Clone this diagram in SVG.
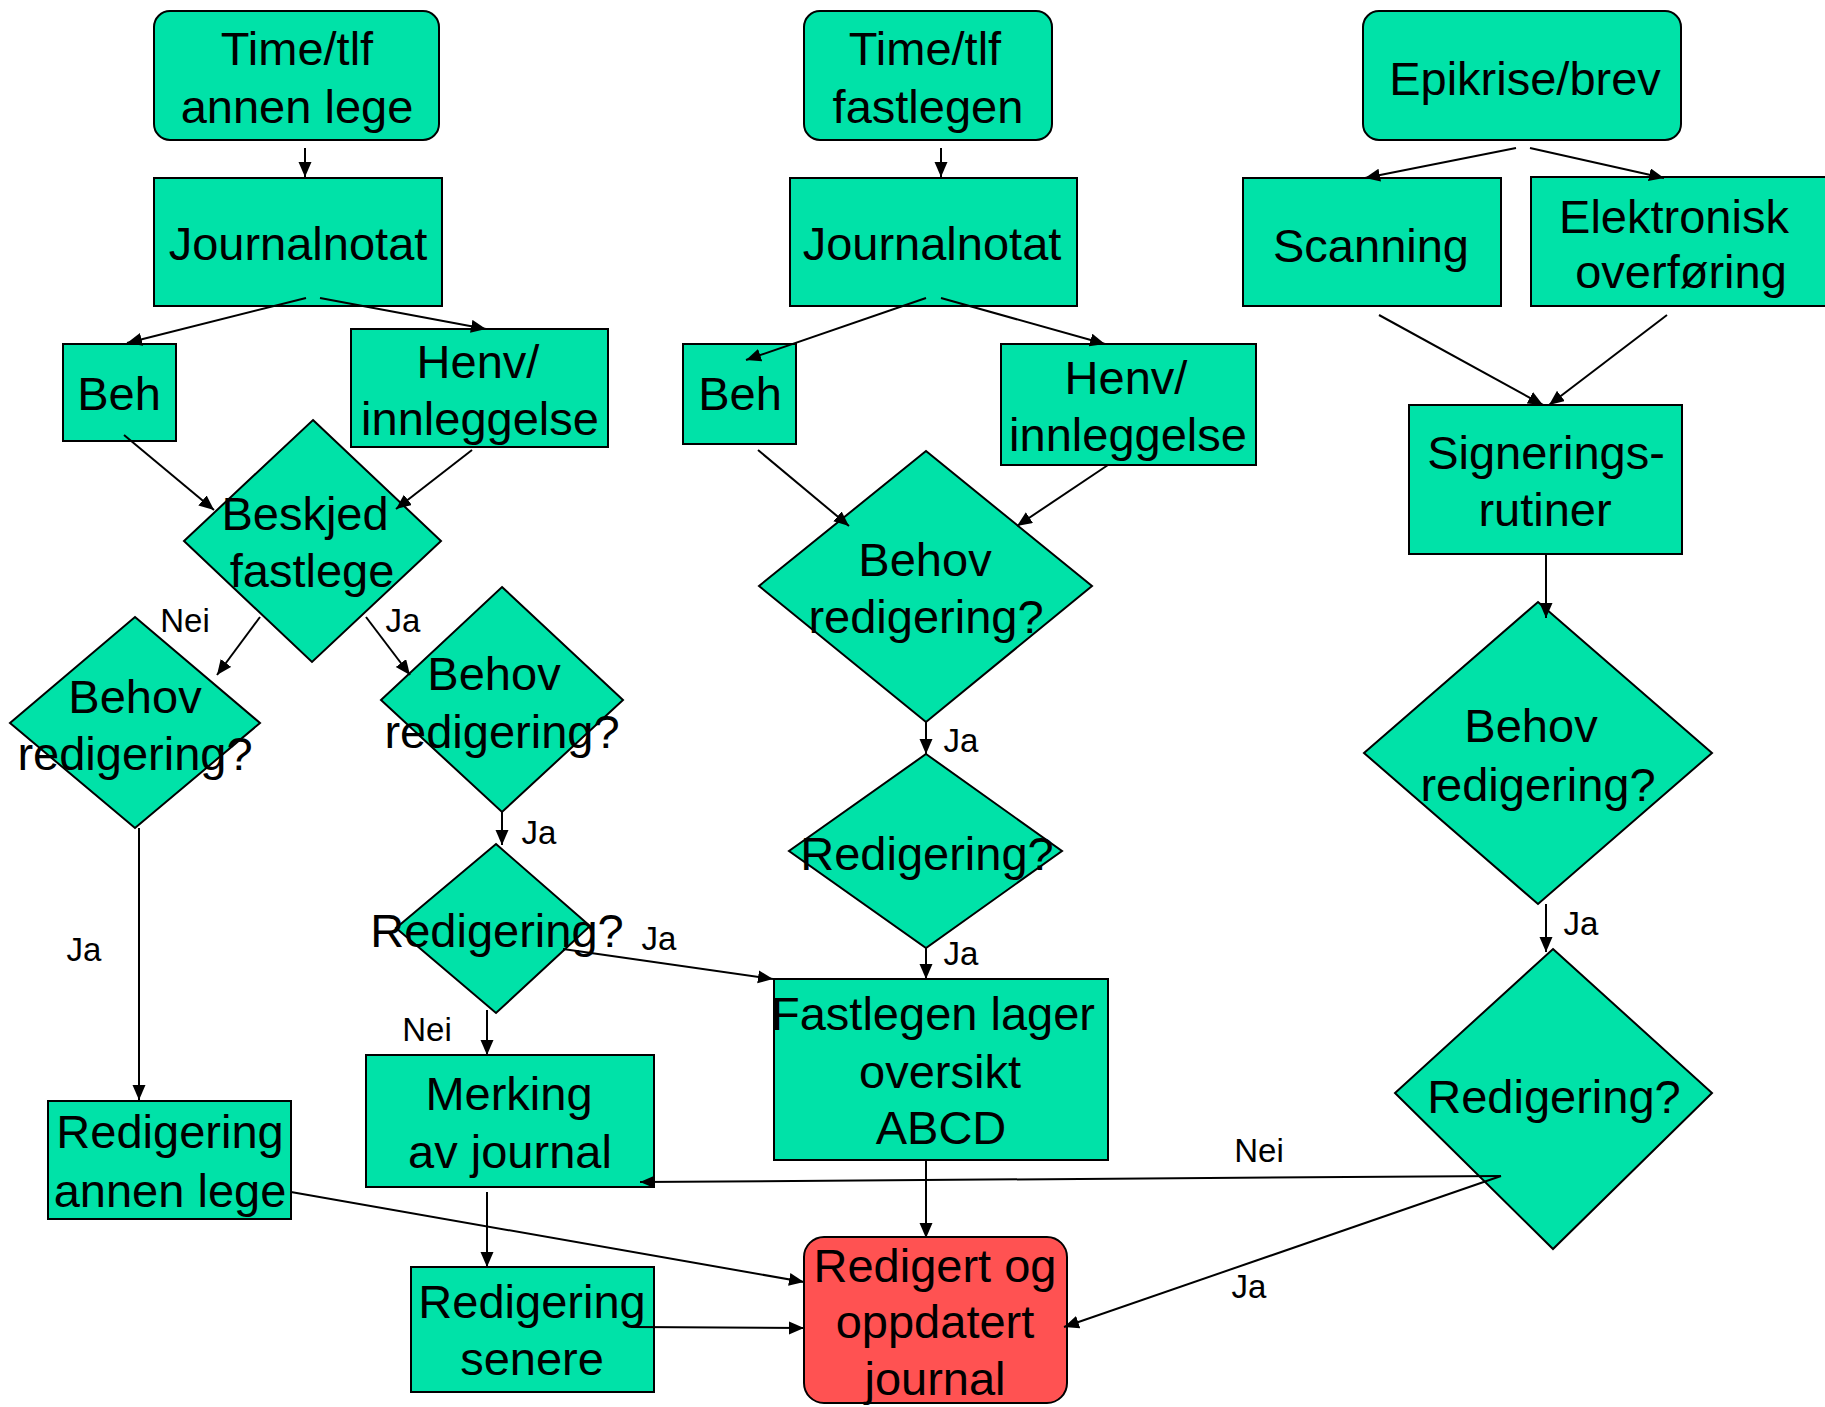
<svg xmlns="http://www.w3.org/2000/svg" width="1825" height="1407" viewBox="0 0 1825 1407">
<defs>
<marker id="ah" markerUnits="userSpaceOnUse" markerWidth="16" markerHeight="14" refX="15" refY="6.5" orient="auto">
<path d="M0,0 L15,6.5 L0,13 z" fill="#000"/>
</marker>
<style>
.n{fill:#00E2A8;stroke:#000;stroke-width:2}
.r{fill:#FF5252;stroke:#000;stroke-width:2}
.t{font-family:"Liberation Sans",Arial,sans-serif;font-size:47px;fill:#000;text-anchor:middle}
.l{font-family:"Liberation Sans",Arial,sans-serif;font-size:33px;fill:#000;text-anchor:middle}
.c line{stroke:#000;stroke-width:2;marker-end:url(#ah)}
</style>
</defs>
<rect width="1825" height="1407" fill="#fff"/>

<g id="time1"><rect class="n" x="154" y="11" width="285" height="129" rx="16"/><text class="t" x="297" y="65">Time/tlf</text><text class="t" x="297" y="123">annen lege</text></g>
<g id="journal1"><rect class="n" x="154" y="178" width="288" height="128"/><text class="t" x="298" y="260">Journalnotat</text></g>
<g id="beh1"><rect class="n" x="63" y="344" width="113" height="97"/><text class="t" x="119" y="410">Beh</text></g>
<g id="henv1"><rect class="n" x="351" y="329" width="257" height="118"/><text class="t" x="478" y="378">Henv/</text><text class="t" x="480" y="435">innleggelse</text></g>
<g id="beskjed"><polygon class="n" points="313,420 441,541 312,662 184,541"/><text class="t" x="305" y="530">Beskjed</text><text class="t" x="312" y="587">fastlege</text></g>
<g id="behov1"><polygon class="n" points="135,617 260,723 135,828 10,723"/><text class="t" x="135" y="713">Behov</text><text class="t" x="135" y="770">redigering?</text></g>
<g id="behov2"><polygon class="n" points="502,587 623,700 502,812 381,700"/><text class="t" x="494" y="690">Behov</text><text class="t" x="502" y="748">redigering?</text></g>
<g id="red1"><polygon class="n" points="496,844 590,926 496,1013 396,928"/><text class="t" x="497" y="947">Redigering?</text></g>
<g id="redannen"><rect class="n" x="48" y="1101" width="243" height="118"/><text class="t" x="170" y="1148">Redigering</text><text class="t" x="170" y="1207">annen lege</text></g>
<g id="merking"><rect class="n" x="366" y="1055" width="288" height="132"/><text class="t" x="509" y="1110">Merking</text><text class="t" x="510" y="1168">av journal</text></g>
<g id="senere"><rect class="n" x="411" y="1267" width="243" height="125"/><text class="t" x="532" y="1318">Redigering</text><text class="t" x="532" y="1375">senere</text></g>

<g id="time2"><rect class="n" x="804" y="11" width="248" height="129" rx="16"/><text class="t" x="925" y="65">Time/tlf</text><text class="t" x="928" y="123">fastlegen</text></g>
<g id="journal2"><rect class="n" x="790" y="178" width="287" height="128"/><text class="t" x="932" y="260">Journalnotat</text></g>
<g id="beh2"><rect class="n" x="683" y="344" width="113" height="100"/><text class="t" x="740" y="410">Beh</text></g>
<g id="henv2"><rect class="n" x="1001" y="344" width="255" height="121"/><text class="t" x="1126" y="394">Henv/</text><text class="t" x="1128" y="451">innleggelse</text></g>
<g id="behov3"><polygon class="n" points="926,451 1092,586 926,722 759,586"/><text class="t" x="925" y="576">Behov</text><text class="t" x="926" y="633">redigering?</text></g>
<g id="red2"><polygon class="n" points="926,754 1062,851 926,948 789,851"/><text class="t" x="927" y="870">Redigering?</text></g>
<g id="fastlegen"><rect class="n" x="774" y="979" width="334" height="181"/><text class="t" x="933" y="1030">Fastlegen lager</text><text class="t" x="940" y="1088">oversikt</text><text class="t" x="941" y="1144">ABCD</text></g>
<g id="result"><rect class="r" x="804" y="1237" width="263" height="166" rx="20"/><text class="t" x="935" y="1282">Redigert og</text><text class="t" x="935" y="1338">oppdatert</text><text class="t" x="935" y="1395">journal</text></g>

<g id="epikrise"><rect class="n" x="1363" y="11" width="318" height="129" rx="16"/><text class="t" x="1525" y="95">Epikrise/brev</text></g>
<g id="scanning"><rect class="n" x="1243" y="178" width="258" height="128"/><text class="t" x="1371" y="262">Scanning</text></g>
<g id="elektronisk"><rect class="n" x="1531" y="177" width="310" height="129"/><text class="t" x="1674" y="233">Elektronisk</text><text class="t" x="1681" y="288">overføring</text></g>
<g id="signer"><rect class="n" x="1409" y="405" width="273" height="149"/><text class="t" x="1546" y="469">Signerings-</text><text class="t" x="1545" y="526">rutiner</text></g>
<g id="behov4"><polygon class="n" points="1538,602 1712,753 1538,904 1364,753"/><text class="t" x="1531" y="742">Behov</text><text class="t" x="1538" y="801">redigering?</text></g>
<g id="red3"><polygon class="n" points="1553,949 1712,1093 1553,1249 1395,1093"/><text class="t" x="1554" y="1113">Redigering?</text></g>

<g id="connectors" class="c">
<line x1="305" y1="148" x2="305" y2="177"/>
<line x1="306" y1="298" x2="127" y2="343"/>
<line x1="320" y1="298" x2="486" y2="329"/>
<line x1="124" y1="435" x2="214" y2="510"/>
<line x1="472" y1="450" x2="396" y2="509"/>
<line x1="260" y1="617" x2="217" y2="675"/>
<line x1="366" y1="617" x2="410" y2="675"/>
<line x1="139" y1="828" x2="139" y2="1100"/>
<line x1="502" y1="812" x2="502" y2="845"/>
<line x1="487" y1="1010" x2="487" y2="1055"/>
<line x1="563" y1="949" x2="773" y2="979"/>
<line x1="487" y1="1192" x2="487" y2="1267"/>
<line x1="291" y1="1192" x2="804" y2="1282"/>
<line x1="634" y1="1327" x2="804" y2="1328"/>
<line x1="941" y1="148" x2="941" y2="177"/>
<line x1="926" y1="298" x2="746" y2="360"/>
<line x1="941" y1="298" x2="1105" y2="344"/>
<line x1="758" y1="450" x2="849" y2="526"/>
<line x1="1108" y1="465" x2="1017" y2="526"/>
<line x1="926" y1="722" x2="926" y2="754"/>
<line x1="926" y1="948" x2="926" y2="979"/>
<line x1="926" y1="1160" x2="926" y2="1238"/>
<line x1="1516" y1="148" x2="1365" y2="178"/>
<line x1="1530" y1="148" x2="1664" y2="178"/>
<line x1="1379" y1="315" x2="1543" y2="405"/>
<line x1="1667" y1="315" x2="1549" y2="405"/>
<line x1="1546" y1="554" x2="1546" y2="618"/>
<line x1="1546" y1="904" x2="1546" y2="952"/>
<line x1="1501" y1="1176" x2="640" y2="1182"/>
<line x1="1501" y1="1176" x2="1064" y2="1327"/>
</g>

<g id="labels">
<text class="l" x="185" y="632">Nei</text>
<text class="l" x="403" y="632">Ja</text>
<text class="l" x="539" y="844">Ja</text>
<text class="l" x="84" y="961">Ja</text>
<text class="l" x="659" y="950">Ja</text>
<text class="l" x="427" y="1041">Nei</text>
<text class="l" x="961" y="752">Ja</text>
<text class="l" x="961" y="965">Ja</text>
<text class="l" x="1581" y="935">Ja</text>
<text class="l" x="1259" y="1162">Nei</text>
<text class="l" x="1249" y="1298">Ja</text>
</g>
</svg>
